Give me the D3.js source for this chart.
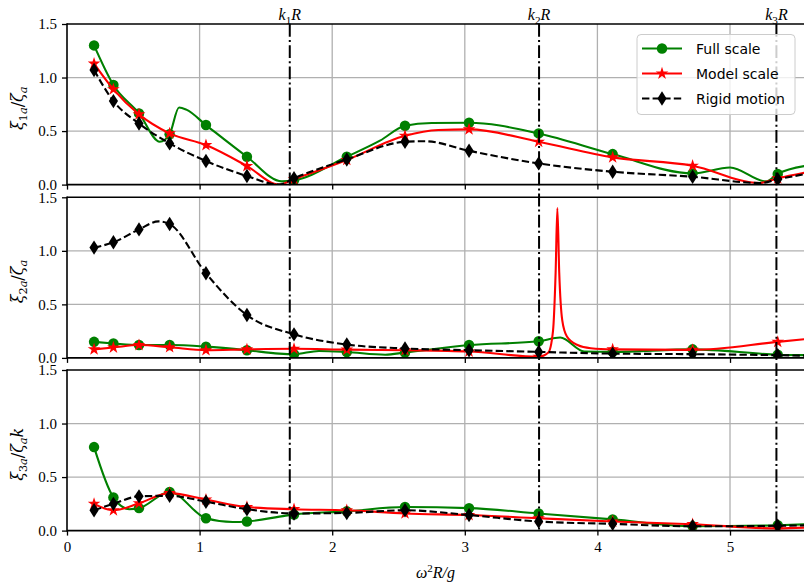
<!DOCTYPE html>
<html>
<head>
<meta charset="utf-8">
<script src="https://cdn.jsdelivr.net/npm/d3@7"></script>
<style>
  body { margin: 0; background: #fff; }
  svg { display: block; }
</style>
</head>
<body>
<svg id="chart" width="804" height="583"></svg>
<script>
// Frequencies where markers are drawn (ω²R/g)
const freq = [0.204, 0.35, 0.543, 0.774, 1.048, 1.357, 1.712, 2.11, 2.549, 3.032, 3.557, 4.115, 4.718, 5.36];

const xTicks = [0, 1, 2, 3, 4, 5];
const yTicks = [0, 0.5, 1.0, 1.5];
const kValues = [1.68, 3.56, 5.35];
const kIndices = ["1", "2", "3"];
const seriesNames = ["Full scale", "Model scale", "Rigid motion"];

// Mode 1 amplitude, ξ1a/ζa
const full1 = [1.30, 0.93, 0.665, 0.47, 0.556, 0.26, 0.04, 0.26, 0.55, 0.578, 0.478, 0.285, 0.105, 0.10];
const full1Extra = [[0.70, 0.40], [0.845, 0.72], [0.90, 0.70], [1.62, 0.03], [2.36, 0.41], [2.75, 0.575], [5.0, 0.16], [5.27, 0.03], [5.6, 0.18]];
const model1 = [1.13, 0.89, 0.656, 0.478, 0.369, 0.173, 0.05, 0.23, 0.456, 0.516, 0.40, 0.254, 0.176, 0.058];
const model1Extra = [[1.6, 0.0], [2.8, 0.51], [5.22, 0.015], [5.6, 0.12]];
const rigid1 = [1.07, 0.78, 0.57, 0.385, 0.22, 0.08, 0.06, 0.235, 0.40, 0.316, 0.198, 0.12, 0.073, 0.05];
const rigid1Extra = [[1.6, 0.0], [2.7, 0.405], [5.23, 0.015], [5.6, 0.105]];

// Mode 2 amplitude, ξ2a/ζa
const full2 = [0.15, 0.135, 0.12, 0.12, 0.105, 0.072, 0.035, 0.055, 0.05, 0.12, 0.155, 0.056, 0.08, 0.03];
const full2Extra = [[1.6, 0.04], [1.9, 0.065], [2.4, 0.03], [3.72, 0.19], [3.9, 0.06], [5.6, 0.025]];
const model2 = [0.08, 0.097, 0.12, 0.10, 0.072, 0.08, 0.085, 0.077, 0.072, 0.06, 0.01, 0.08, 0.075, 0.15];
const model2Extra = [[3.63, 0.05], [3.665, 0.25], [3.685, 0.8], [3.698, 1.40], [3.712, 0.8], [3.735, 0.35], [3.77, 0.2], [3.85, 0.12], [3.95, 0.09], [5.6, 0.18]];
const rigid2 = [1.03, 1.08, 1.20, 1.25, 0.79, 0.40, 0.22, 0.125, 0.088, 0.072, 0.056, 0.04, 0.035, 0.025];
const rigid2Extra = [[0.69, 1.275], [5.6, 0.02]];

// Mode 3 amplitude, ξ3a/ζa k
const full3 = [0.78, 0.31, 0.21, 0.36, 0.115, 0.085, 0.15, 0.18, 0.22, 0.21, 0.16, 0.105, 0.04, 0.05];
const full3Extra = [[0.47, 0.20], [1.25, 0.08], [1.65, 0.14], [5.6, 0.06]];
const model3 = [0.25, 0.19, 0.255, 0.35, 0.29, 0.22, 0.20, 0.19, 0.16, 0.145, 0.115, 0.085, 0.06, 0.02];
const model3Extra = [[5.6, 0.03]];
const rigid3 = [0.19, 0.25, 0.32, 0.325, 0.27, 0.20, 0.16, 0.165, 0.19, 0.145, 0.085, 0.063, 0.04, 0.045];
const rigid3Extra = [[5.6, 0.05]];

const colors = ["#008000", "#ff0000", "#000000"];

const panels = [
  { label: [["ξ", 1], ["1", 0, 1], ["a", 1, 1], ["/", 0], ["ζ", 1], ["a", 1, 1]],
    series: [[full1, full1Extra], [model1, model1Extra], [rigid1, rigid1Extra]] },
  { label: [["ξ", 1], ["2", 0, 1], ["a", 1, 1], ["/", 0], ["ζ", 1], ["a", 1, 1]],
    series: [[full2, full2Extra], [model2, model2Extra], [rigid2, rigid2Extra]] },
  { label: [["ξ", 1], ["3", 0, 1], ["a", 1, 1], ["/", 0], ["ζ", 1], ["a", 1, 1], ["k", 1]],
    series: [[full3, full3Extra], [model3, model3Extra], [rigid3, rigid3Extra]] }
];

const svg = d3.select("#chart");
const left = 67, right = 804;
const panelTop = [24, 197.3, 370];
const panelH = 160.6;

const x = d3.scaleLinear().domain([0, 5.558]).range([left, right]);

const serif = "'Liberation Serif', 'DejaVu Serif', serif";
const labelSerif = "'DejaVu Serif', 'Liberation Serif', serif";
const sans = "'DejaVu Sans', sans-serif";

// write a run of math text as tspans: [text, italic, subscript]
function mathText(textSel, parts, size) {
  let prevSub = false;
  parts.forEach(([t, it, sub]) => {
    const ts = textSel.append("tspan").text(t)
      .attr("font-style", it ? "italic" : "normal")
      .attr("font-size", sub ? size * 0.7 : size);
    if (sub && !prevSub) ts.attr("dy", size * 0.28);
    if (!sub && prevSub) ts.attr("dy", -size * 0.28);
    prevSub = !!sub;
  });
}

const markerPath = [
  d3.symbol().type(d3.symbolCircle).size(86)(),
  d3.symbol().type(d3.symbolStar).size(50)(),
  "M0,-7.2L4.6,0L0,7.2L-4.6,0Z"
];

panels.forEach((p, pi) => {
  const top = panelTop[pi], bottom = top + panelH;
  const y = d3.scaleLinear().domain([0, 1.5]).range([bottom, top]);
  const g = svg.append("g");

  const clipId = "clip" + pi;
  svg.append("clipPath").attr("id", clipId)
    .append("rect").attr("x", left).attr("y", top).attr("width", right - left + 5).attr("height", panelH);

  // grid
  g.append("g").selectAll("line").data(xTicks.filter(t => t > 0)).join("line")
    .attr("x1", d => x(d)).attr("x2", d => x(d)).attr("y1", top).attr("y2", bottom)
    .attr("stroke", "#b0b0b0").attr("stroke-width", 1.3);
  g.append("g").selectAll("line").data(yTicks.filter(t => t > 0 && t < 1.5)).join("line")
    .attr("x1", left).attr("x2", right).attr("y1", d => y(d)).attr("y2", d => y(d))
    .attr("stroke", "#b0b0b0").attr("stroke-width", 1.3);

  // series
  const plot = g.append("g").attr("clip-path", `url(#${clipId})`);
  const line = d3.line().x(d => x(d[0])).y(d => y(d[1])).curve(d3.curveMonotoneX);
  p.series.forEach(([vals, extra], si) => {
    const pts = freq.map((f, i) => [f, vals[i]]).concat(extra).sort((a, b) => a[0] - b[0]);
    plot.append("path").datum(pts).attr("d", line)
      .attr("fill", "none").attr("stroke", colors[si]).attr("stroke-width", 2.1)
      .attr("stroke-dasharray", si === 2 ? "7.4,3.2" : null);
    plot.append("g").selectAll("path").data(freq.map((f, i) => [f, vals[i]])).join("path")
      .attr("d", markerPath[si])
      .attr("transform", d => `translate(${x(d[0])},${y(d[1])})`)
      .attr("fill", colors[si]);
  });

  // spines
  g.append("line").attr("x1", left).attr("x2", right).attr("y1", top).attr("y2", top)
    .attr("stroke", "#000").attr("stroke-width", 1.6);
  g.append("line").attr("x1", left).attr("x2", right).attr("y1", bottom).attr("y2", bottom)
    .attr("stroke", "#000").attr("stroke-width", 1.6);
  g.append("line").attr("x1", left).attr("x2", left).attr("y1", top - 0.8).attr("y2", bottom + 0.8)
    .attr("stroke", "#000").attr("stroke-width", 1.6);

  // y axis ticks
  const yAxis = d3.axisLeft(y).tickValues(yTicks).tickFormat(d3.format(".1f")).tickSize(5).tickPadding(5);
  const ya = g.append("g").attr("transform", `translate(${left},0)`).call(yAxis);
  ya.select(".domain").remove();
  ya.selectAll(".tick line").attr("stroke", "#000").attr("stroke-width", 1.3);
  ya.selectAll(".tick text").attr("font-family", serif).attr("font-size", 15).attr("fill", "#000");

  // x axis ticks
  const xAxis = d3.axisBottom(x).tickValues(xTicks).tickFormat(pi === 2 ? d3.format("d") : () => "").tickSize(5).tickPadding(6);
  const xa = g.append("g").attr("transform", `translate(0,${bottom})`).call(xAxis);
  xa.select(".domain").remove();
  xa.selectAll(".tick line").attr("stroke", "#000").attr("stroke-width", 1.3);
  xa.selectAll(".tick text").attr("font-family", serif).attr("font-size", 15).attr("fill", "#000");

  // y label
  const lab = g.append("text")
    .attr("transform", `translate(23,${(top + bottom) / 2 + 4}) rotate(-90)`)
    .attr("text-anchor", "middle").attr("font-family", labelSerif).attr("fill", "#000");
  mathText(lab, p.label, 16);
});

// natural frequency markers across all panels
const kg = svg.append("g");
kValues.forEach((k, i) => {
  kg.append("line").attr("x1", x(k)).attr("x2", x(k))
    .attr("y1", panelTop[0]).attr("y2", panelTop[2] + panelH)
    .attr("stroke", "#000").attr("stroke-width", 2)
    .attr("stroke-dasharray", "12.8,3.2,2,3.2");
  const t = kg.append("text").attr("x", x(k)).attr("y", 20)
    .attr("text-anchor", "middle").attr("font-family", serif).attr("fill", "#000");
  mathText(t, [["k", 1], [kIndices[i], 0, 1], ["R", 1]], 16);
});

// x label
const xl = svg.append("text").attr("x", (left + right) / 2).attr("y", 578)
  .attr("text-anchor", "middle").attr("font-family", serif).attr("fill", "#000");
xl.append("tspan").text("ω").attr("font-style", "italic").attr("font-size", 16);
xl.append("tspan").text("2").attr("font-size", 11).attr("dy", -6);
xl.append("tspan").text("R/g").attr("font-style", "italic").attr("font-size", 16).attr("dy", 6);

// legend
const lg = svg.append("g");
lg.append("rect").attr("x", 637).attr("y", 34.5).attr("width", 158).attr("height", 80).attr("rx", 4)
  .attr("fill", "#fff").attr("fill-opacity", 0.8).attr("stroke", "#cccccc").attr("stroke-width", 1);
seriesNames.forEach((name, i) => {
  const ly = 48.5 + i * 25;
  lg.append("line").attr("x1", 642).attr("x2", 682).attr("y1", ly).attr("y2", ly)
    .attr("stroke", colors[i]).attr("stroke-width", 2.1)
    .attr("stroke-dasharray", i === 2 ? "7.4,3.2" : null);
  lg.append("path").attr("d", markerPath[i]).attr("transform", `translate(662,${ly})`).attr("fill", colors[i]);
  lg.append("text").attr("x", 696).attr("y", ly + 5).text(name)
    .attr("font-family", sans).attr("font-size", 14).attr("fill", "#000");
});
</script>
</body>
</html>
